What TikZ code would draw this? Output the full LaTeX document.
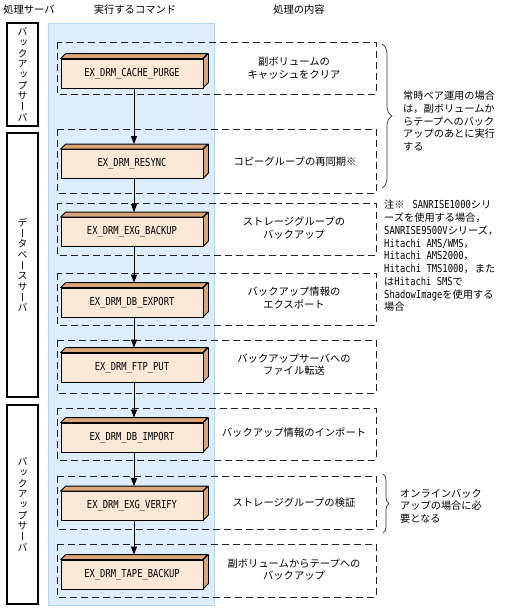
\documentclass[tikz,border=0pt]{standalone}
\usepackage{fontspec}
\setmainfont{Noto Sans CJK JP}
\newfontfamily\cmdfont[FakeStretch=0.8]{DejaVu Sans Mono}
\newfontfamily\vfont[RawFeature=+vert]{Noto Sans CJK JP}
\usetikzlibrary{arrows.meta,decorations.pathreplacing}
\definecolor{panelfill}{HTML}{DDEDFC}
\definecolor{paneldraw}{HTML}{B7D6F2}
\definecolor{frontc}{HTML}{FAE8D6}
\definecolor{sidec}{HTML}{DAA678}
\definecolor{dashc}{HTML}{222222}
\newcommand\hf[1]{{\cmdfont\fontsize{11}{12.75}\selectfont #1}}
\newcommand\mkcmd[3]{%
  \node[cmd] (#1) at (132,#2) {#3};
  \draw[face] (#1.north west) -- ++(5,-5) -- ++(142,0) -- ++(-5,5) -- cycle;
  \draw[face] (#1.north east) -- ++(5,-5) -- ++(0,29) -- ++(-5,5) -- cycle;
}
\begin{document}
\begin{tikzpicture}[x=1pt,y=-1pt,
  cmd/.style={draw=black,line width=0.8pt,fill=frontc,minimum width=142pt,minimum height=29pt,inner sep=0pt,font=\cmdfont\fontsize{11}{12}\selectfont},
  face/.style={draw=black,line width=0.8pt,fill=sidec,line join=round},
  dbox/.style={draw=dashc,line width=0.8pt,dash pattern=on 7pt off 4pt},
  srv/.style={draw=black,line width=1.8pt},
  jp/.style={font=\fontsize{10.3}{12.5}\selectfont,align=center,inner sep=0pt},
  jpl/.style={font=\fontsize{10.2}{12.75}\selectfont,align=left,inner sep=0pt,anchor=west},
  vt/.style={font=\vfont\fontsize{10}{10.7}\selectfont,align=center,inner sep=0pt},
  arr/.style={line width=0.8pt,-{Triangle[length=8pt,width=6pt]}},
  brc/.style={decorate,decoration={brace,amplitude=#1},draw=black!80,line width=0.7pt}]
\useasboundingbox (0,0) rectangle (504,608);
% headers
\node[jp] (h1) at (29,10) {処理サーバ};
\node[jp] (h2) at (135,10) {実行するコマンド};
\node[jp] (h3) at (299,10) {処理の内容};
% server boxes
\draw[srv] (7,23) rectangle (38,126);
\draw[srv] (7,133) rectangle (38,397);
\draw[srv] (7,405) rectangle (38,604);
\node[vt] (s1) at (22.5,74.5) {バ\\ッ\\ク\\ア\\ッ\\プ\\サ\\ー\\バ};
\node[vt] (s2) at (22.5,265) {デ\\ー\\タ\\ベ\\ー\\ス\\サ\\ー\\バ};
\node[vt] (s3) at (22.5,504.5) {バ\\ッ\\ク\\ア\\ッ\\プ\\サ\\ー\\バ};
% panel
\draw[fill=panelfill,draw=paneldraw,line width=0.8pt] (48,23) rectangle (214,605);
% dashed boxes
\draw[dbox] (57,42) rectangle (376,94);
\draw[dbox] (57,129) rectangle (376,193);
\draw[dbox] (57,203) rectangle (376,255);
\draw[dbox] (57,273) rectangle (376,325);
\draw[dbox] (57,340) rectangle (376,393);
\draw[dbox] (57,408) rectangle (376,460);
\draw[dbox] (57,476) rectangle (376,529);
\draw[dbox] (57,544) rectangle (376,597);
% command boxes
\mkcmd{c1}{73.5}{EX\_DRM\_CACHE\_PURGE}
\mkcmd{c2}{164}{EX\_DRM\_RESYNC}
\mkcmd{c3}{232}{EX\_DRM\_EXG\_BACKUP}
\mkcmd{c4}{302.5}{EX\_DRM\_DB\_EXPORT}
\mkcmd{c5}{367.5}{EX\_DRM\_FTP\_PUT}
\mkcmd{c6}{437.5}{EX\_DRM\_DB\_IMPORT}
\mkcmd{c7}{506}{EX\_DRM\_EXG\_VERIFY}
\mkcmd{c8}{574.5}{EX\_DRM\_TAPE\_BACKUP}
% arrows
\draw[arr] ([xshift=2pt]c1.south) -- ([xshift=2pt,yshift=5pt]c2.north);
\draw[arr] ([xshift=2pt]c2.south) -- ([xshift=2pt,yshift=5pt]c3.north);
\draw[arr] ([xshift=2pt]c3.south) -- ([xshift=2pt,yshift=5pt]c4.north);
\draw[arr] ([xshift=2pt]c4.south) -- ([xshift=2pt,yshift=5pt]c5.north);
\draw[arr] ([xshift=2pt]c5.south) -- ([xshift=2pt,yshift=5pt]c6.north);
\draw[arr] ([xshift=2pt]c6.south) -- ([xshift=2pt,yshift=5pt]c7.north);
\draw[arr] ([xshift=2pt]c7.south) -- ([xshift=2pt,yshift=5pt]c8.north);
% descriptions
\node[jp] (d1) at (294,68) {副ボリュームの\\キャッシュをクリア};
\node[jp] (d2) at (295,161.5) {コピーグループの再同期※};
\node[jp] (d3) at (294,228) {ストレージグループの\\バックアップ};
\node[jp] (d4) at (294,298) {バックアップ情報の\\エクスポート};
\node[jp] (d5) at (294,364.5) {バックアップサーバへの\\ファイル転送};
\node[jp] (d6) at (294,433) {バックアップ情報のインポート};
\node[jp] (d7) at (294,503) {ストレージグループの検証};
\node[jp] (d8) at (294,569.5) {副ボリュームからテープへの\\バックアップ};
% braces and notes
\draw[brc=10pt] (382,44) -- (382,188);
\node[jpl] (n1) at (403,121) {常時ペア運用の場合\\は，副ボリュームか\\らテープへのバック\\アップのあとに実行\\する};
\node[jpl] (n2) at (384,256) {注※\hspace{8pt}\hf{SANRISE1000}シリ\\ーズを使用する場合，\\\hf{SANRISE9500V}シリーズ，\\\hf{Hitachi AMS/WMS}，\\\hf{Hitachi AMS2000}，\\\hf{Hitachi TMS1000}，\hspace{1pt}また\\は\hf{Hitachi SMS}で\\\hf{ShadowImage}を使用する\\場合};
\draw[brc=6pt] (383,474) -- (383,533);
\node[jpl] (n3) at (400,506) {オンラインバック\\アップの場合に必\\要となる};
\end{tikzpicture}
\end{document}
